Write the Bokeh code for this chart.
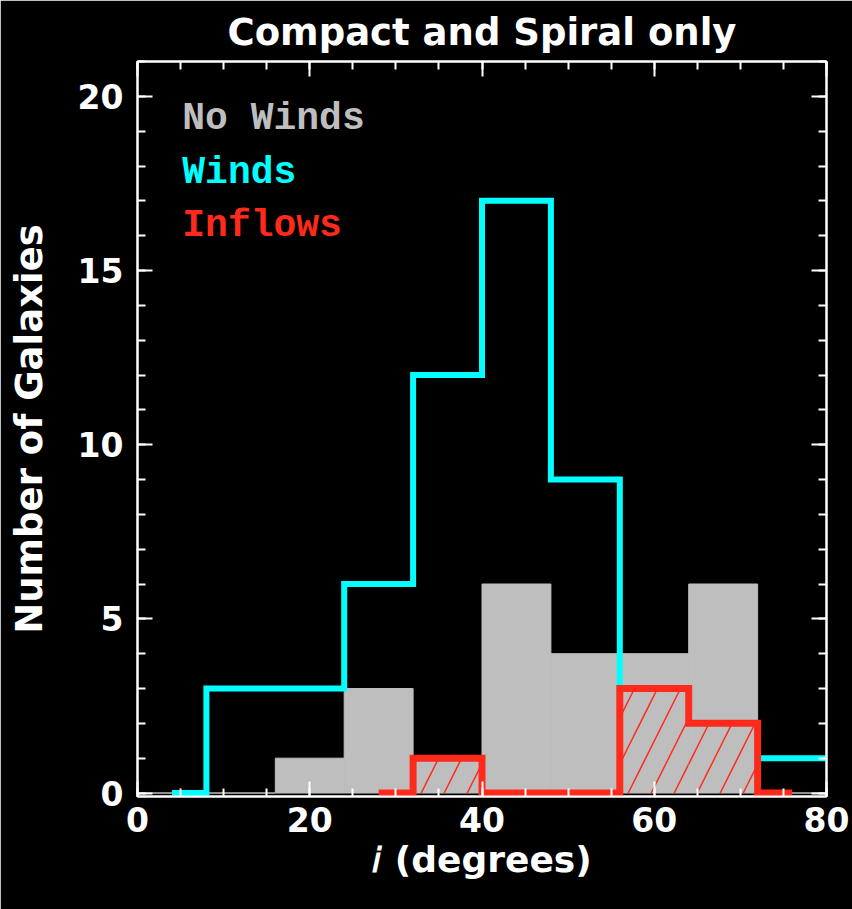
from bokeh.plotting import figure
from bokeh.models import Range1d, LinearAxis, Label, SingleIntervalTicker, CustomJSTickFormatter
from bokeh.embed import file_html
from bokeh.resources import INLINE

# Histogram data (bin width 8 degrees)
bin_left = [0, 8, 16, 24, 32, 40, 48, 56, 64, 72, 80]
no_winds = [0, 0, 1, 3, 1, 6, 4, 4, 6, 0, 0]
winds    = [0, 3, 3, 6, 12, 17, 9, 3, 2, 1, 1]
inflows  = [0, 0, 0, 0, 1, 0, 0, 3, 2, 0, 0]
bin_width = 8
winds_bins = (0, 11)     # bins over which the Winds histogram is drawn
inflow_bins = (3, 10)    # bins over which the Inflows histogram is drawn

labels = ["No Winds", "Winds", "Inflows"]

GREY = "#BEBEBE"
CYAN = "#00FFFF"
RED = "#FF2A1C"
FONT = "DejaVu Sans"

bin_right = [b + bin_width for b in bin_left]
centers = [b + bin_width / 2 for b in bin_left]

p = figure(width=852, height=909, output_backend="svg", toolbar_location=None,
           x_range=Range1d(0, 80), y_range=Range1d(-0.1, 21),
           min_border_left=137, min_border_right=26,
           min_border_top=58, min_border_bottom=113,
           background_fill_color="black", border_fill_color="black",
           title="Compact and Spiral only")
p.outline_line_color = "white"
p.outline_line_width = 2
p.grid.visible = False

p.title.align = "center"
p.title.text_color = "white"
p.title.text_font = FONT
p.title.text_font_size = "37px"
p.title.text_font_style = "bold"
p.title.standoff = 16

# No winds: filled grey bars
p.quad(left=bin_left, right=bin_right, bottom=0, top=no_winds,
       fill_color=GREY, line_color=GREY, line_width=1)

# Winds: cyan histogram outline
s, e = winds_bins
p.step(x=centers[s:e], y=winds[s:e], mode="center", line_color=CYAN,
       line_width=6, line_join="miter")

# Inflows: hatched + red outline
p.quad(left=bin_left, right=bin_right, bottom=0, top=inflows,
       fill_color=None, line_color=None, hatch_pattern="/",
       hatch_color=RED, hatch_weight=1.5, hatch_scale=46)
s, e = inflow_bins
p.step(x=centers[s:e], y=inflows[s:e], mode="center", line_color=RED,
       line_width=7, line_join="miter")

blank = CustomJSTickFormatter(code="return ''")

def style_axis(ax, show_labels=True):
    ax.axis_line_color = "white"
    ax.axis_line_width = 2
    ax.major_tick_line_color = "white"
    ax.minor_tick_line_color = "white"
    ax.major_tick_line_width = 2
    ax.minor_tick_line_width = 2
    ax.major_tick_in = 15
    ax.major_tick_out = 0
    ax.minor_tick_in = 8
    ax.minor_tick_out = 0
    ax.major_label_text_color = "white"
    ax.major_label_text_font = FONT
    ax.major_label_text_font_style = "bold"
    ax.major_label_text_font_size = "33px"
    ax.axis_label_text_color = "white"
    ax.axis_label_text_font = FONT
    ax.axis_label_text_font_style = "bold"
    ax.axis_label_text_font_size = "36px"
    if not show_labels:
        ax.formatter = blank
        ax.major_label_standoff = 0

p.xaxis.ticker = SingleIntervalTicker(interval=20, num_minor_ticks=4)
p.yaxis.ticker = SingleIntervalTicker(interval=5, num_minor_ticks=5)
p.xaxis.axis_label = "𝑖 (degrees)"
p.yaxis.axis_label = "Number of Galaxies"
style_axis(p.xaxis[0])
style_axis(p.yaxis[0])
p.yaxis.axis_label_text_font_size = "37px"
p.xaxis.major_label_standoff = 10
p.yaxis.major_label_standoff = 14
p.xaxis.axis_label_standoff = 4
p.yaxis.axis_label_standoff = 24

top_ax = LinearAxis(ticker=SingleIntervalTicker(interval=20, num_minor_ticks=4))
right_ax = LinearAxis(ticker=SingleIntervalTicker(interval=5, num_minor_ticks=5))
style_axis(top_ax, show_labels=False)
style_axis(right_ax, show_labels=False)
p.add_layout(top_ax, "above")
p.add_layout(right_ax, "right")

# Legend as coloured text
for lab, col, yy in zip(labels, [GREY, CYAN, RED], [19.35, 17.8, 16.3]):
    p.add_layout(Label(x=5.2, y=yy, text=lab, text_color=col,
                       text_font="Liberation Mono", text_font_style="bold",
                       text_font_size="38px", text_baseline="middle"))

open("out.html", "w").write(file_html(p, INLINE))
